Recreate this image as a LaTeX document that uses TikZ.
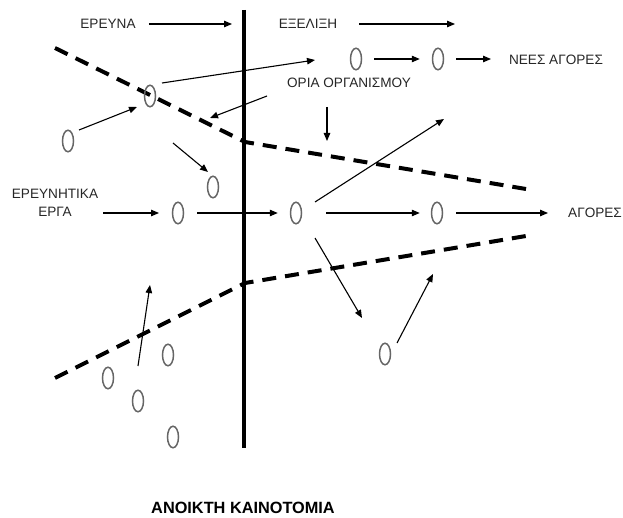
\documentclass[tikz,border=0pt]{standalone}
\usepackage{fontspec}
\setmainfont{Liberation Sans}
\usetikzlibrary{arrows.meta,shapes.geometric}
\begin{document}
\begin{tikzpicture}[x=1pt,y=-1pt,
  oval/.style={draw=black!60, line width=1.5pt, ellipse, minimum width=11pt, minimum height=21.5pt, inner sep=0pt},
  arr/.style={-{Triangle[length=8pt,width=6.5pt]}, line width=1.1pt},
  lbl/.style={font=\fontsize{13.6}{18}\selectfont, inner sep=0pt, text=black!85},
  border/.style={line width=4pt, dash pattern=on 14pt off 9pt},
  wall/.style={line width=4.5pt}
  ]
\useasboundingbox (0,0) rectangle (623,518);
% wall
\coordinate (vtop) at (244,10);
\coordinate (vbot) at (244,448);
\draw[wall] (vtop) -- (vbot);
% boundaries
\coordinate (u1) at (55,48); \coordinate (u2) at (245,142); \coordinate (u3) at (526,189);
\coordinate (l1) at (55,378); \coordinate (l2) at (245,283); \coordinate (l3) at (526,236);
\draw[border] (u1) -- (u2) -- (u3);
\draw[border] (l1) -- (l2) -- (l3);
% labels
\node[lbl] (ereuna) at (108,24) {ΕΡΕΥΝΑ};
\node[lbl] (exelixi) at (308,24) {ΕΞΕΛΙΞΗ};
\node[lbl] (nees) at (556,60) {ΝΕΕΣ ΑΓΟΡΕΣ};
\node[lbl] (oria) at (349,83) {ΟΡΙΑ ΟΡΓΑΝΙΣΜΟΥ};
\node[lbl, align=center] (erga) at (55,203) {ΕΡΕΥΝΗΤΙΚΑ\\ΕΡΓΑ};
\node[lbl, anchor=west] (agores) at (568,213) {ΑΓΟΡΕΣ};
\node[inner sep=0pt, font=\bfseries\fontsize{16.3}{18}\selectfont] (title) at (243,508) {ΑΝΟΙΚΤΗ ΚΑΙΝΟΤΟΜΙΑ};
% ovals
\node[oval] (o1) at (150,96) {};
\node[oval] (o2) at (68,141) {};
\node[oval] (o3) at (213,187) {};
\node[oval] (o4) at (178,213) {};
\node[oval] (o5) at (296,213) {};
\node[oval] (o6) at (356,59) {};
\node[oval] (o7) at (438,59) {};
\node[oval] (o8) at (437,213) {};
\node[oval] (o9) at (385,354) {};
\node[oval] (o10) at (108,378) {};
\node[oval] (o11) at (138,401) {};
\node[oval] (o12) at (168,355) {};
\node[oval] (o13) at (173,437) {};
% arrow end points
\coordinate (e1) at (232,24);
\coordinate (e2) at (455,24);
\coordinate (c1s) at (162,83); \coordinate (c1e) at (315,60);
\coordinate (c2s) at (79,130); \coordinate (c2e) at (137,107);
\coordinate (c3s) at (267,96); \coordinate (c3e) at (210,118);
\coordinate (c4s) at (327,107); \coordinate (c4e) at (327,141);
\coordinate (c5s) at (173,143); \coordinate (c5e) at (208,172);
\coordinate (c10s) at (103,213); \coordinate (c10e) at (159,213);
\coordinate (c6s) at (315,202); \coordinate (c6e) at (444,119);
\coordinate (c7s) at (315,238); \coordinate (c7e) at (362,318);
\coordinate (c8s) at (397,343); \coordinate (c8e) at (433,274);
\coordinate (c9s) at (138,366); \coordinate (c9e) at (150,285);
\coordinate (n1) at (491,59);
% arrows
\draw[arr, shorten <=13pt] (ereuna.east) -- (e1);
\draw[arr, shorten <=22pt] (exelixi.east) -- (e2);
\draw[arr] (c1s) -- (c1e);
\draw[arr, shorten <=12pt, shorten >=12pt] (o6) -- (o7);
\draw[arr, shorten <=12pt] (o7) -- (n1);
\draw[arr] (c2s) -- (c2e);
\draw[arr] (c3s) -- (c3e);
\draw[arr] (c4s) -- (c4e);
\draw[arr] (c5s) -- (c5e);
\draw[arr] (c10s) -- (c10e);
\draw[arr, shorten <=13pt, shorten >=12pt] (o4) -- (o5);
\draw[arr] (c6s) -- (c6e);
\draw[arr, shorten <=24pt, shorten >=11pt] (o5) -- (o8);
\draw[arr, shorten <=13pt, shorten >=20pt] (o8) -- (agores.west |- o8);
\draw[arr] (c7s) -- (c7e);
\draw[arr] (c8s) -- (c8e);
\draw[arr] (c9s) -- (c9e);
\end{tikzpicture}
\end{document}
